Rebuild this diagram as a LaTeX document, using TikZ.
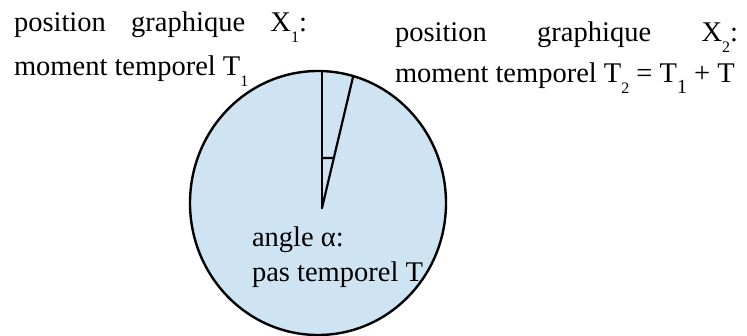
\documentclass[tikz,border=0pt]{standalone}
\usepackage{fontspec}
\setmainfont{Liberation Serif}
\usetikzlibrary{calc}

\definecolor{discblue}{RGB}{207,228,243}
\newcommand{\lowidx}[2][16]{\raisebox{-11pt}{\fontsize{#1}{#1}\selectfont #2}}

\tikzset{
    lbl/.style={anchor=base west, inner sep=0pt, outer sep=0pt,
                font=\fontsize{28.5}{34}\selectfont},
    edge/.style={line width=2.2pt, line cap=round, line join=round}
}

\begin{document}
\begin{tikzpicture}[x=1pt, y=-1pt]

    \clip (0,0) rectangle (747,336);

    % ── Disc ─────────────────────────────────────────────────────────────────
    \filldraw[fill=discblue, draw=black, line width=2.4pt]
        (318,203) ellipse [x radius=128pt, y radius=132pt];

    % ── Two radii and the small tick between them ─────────────────────────────
    \coordinate (O)  at (322,208);
    \coordinate (P1) at (322,71);
    \coordinate (P2) at (353,77);
    \coordinate (t1) at (322,158);
    \coordinate (t2) at ($(O)!0.382!(P2)$);

    \draw[edge] (O) -- (P1);
    \draw[edge] (O) -- (P2);
    \draw[edge] (t1) -- (t2);

    % ── Labels ───────────────────────────────────────────────────────────────
    \node[lbl] (x1a) at (14,32)
        {\makebox[293pt][s]{position graphique X\lowidx{1}:}};
    \node[lbl] (x1b) at (14,76) {moment temporel T\lowidx{1}};

    \node[lbl] (x2a) at (395,42)
        {\makebox[343pt][s]{position graphique X\lowidx{2}:}};
    \node[lbl] (x2b) at (395,83)
        {moment temporel T\lowidx{2} = T\lowidx[20]{1} + T};

    \node[lbl] (ang) at (252,247) {angle α:};
    \node[lbl] (pas) at (252,282) {pas temporel T};

\end{tikzpicture}
\end{document}
